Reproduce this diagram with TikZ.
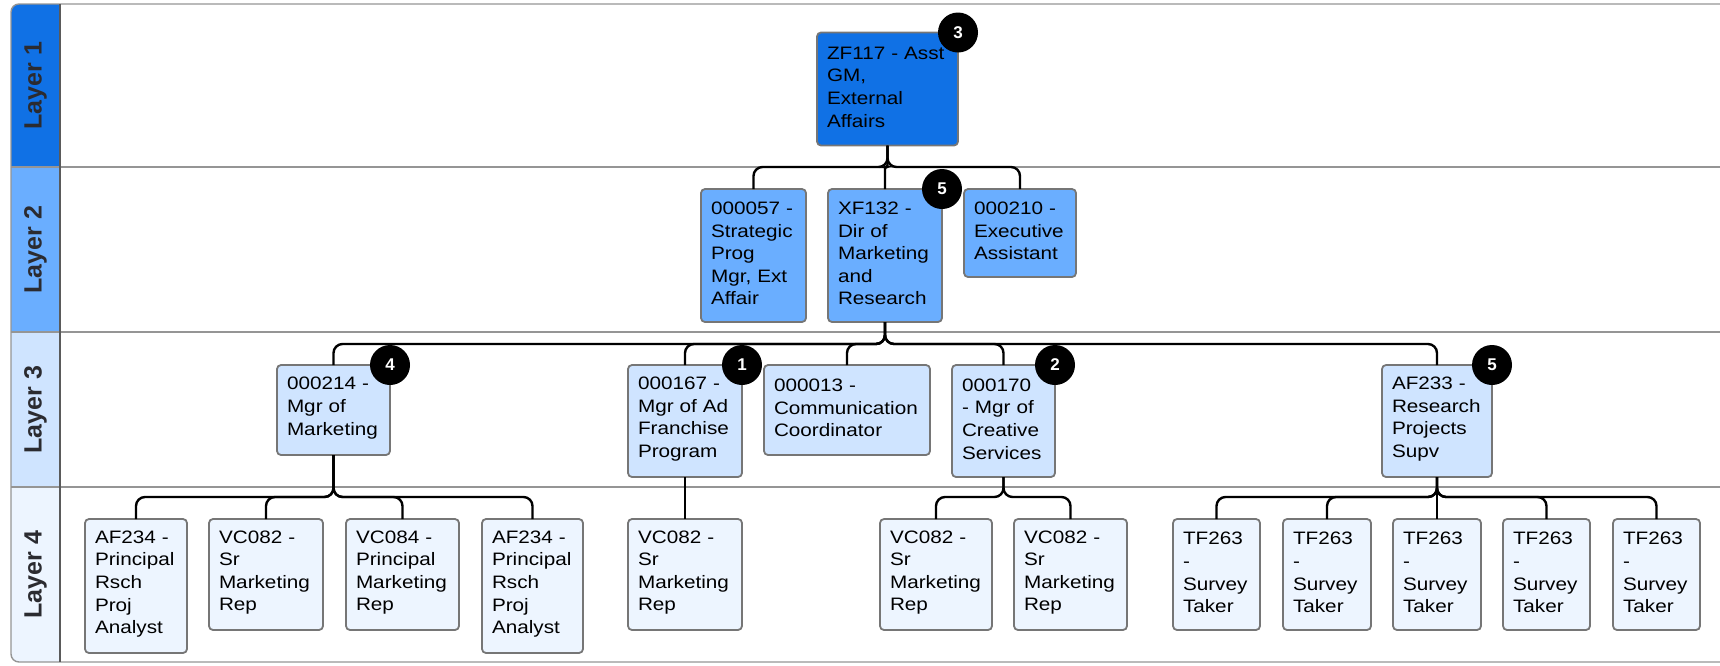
\documentclass[tikz,border=0pt]{standalone}
\usepackage{fontspec}
\setmainfont{Liberation Sans}
\newfontfamily\boxfont{Liberation Sans}[FakeStretch=1.15]
\hyphenpenalty=10000
\exhyphenpenalty=10000

\definecolor{lvlA}{HTML}{1071E5}
\definecolor{lvlB}{HTML}{6AAEFF}
\definecolor{lvlC}{HTML}{CFE4FF}
\definecolor{lvlD}{HTML}{EDF5FF}
\definecolor{boxline}{HTML}{767676}
\definecolor{framegray}{HTML}{959595}
\definecolor{colline}{HTML}{5A5A5A}
\definecolor{labeltext}{HTML}{2B2B30}

\tikzset{
  orgbox/.style={draw=boxline, line width=1.8pt, rounded corners=4pt,
    inner xsep=10pt, inner ysep=0pt, outer sep=0pt, align=left, text=black,
    font=\boxfont\fontsize{18}{22.6}\selectfont},
  conn/.style={draw=black, line width=2.4pt, rounded corners=9pt},
  badge/.style={circle, fill=black, text=white, minimum size=40pt, inner sep=0pt,
    font=\bfseries\fontsize{17}{17}\selectfont},
  layerlabel/.style={rotate=90, text=labeltext, font=\bfseries\fontsize{25}{25}\selectfont},
  band/.style={draw=framegray, line width=1.4pt}
}

% box from its corners: name, left, top, right, bottom, fill, text
\newcommand\chartbox[7]{%
  \pgfmathsetmacro\cbw{#4-#2}%
  \pgfmathsetmacro\cbh{#5-#3}%
  \pgfmathsetmacro\cbt{#4-#2-20}%
  \node[orgbox, fill=#6, minimum width=\cbw pt, minimum height=\cbh pt,
        text width=\cbt pt] (#1) at ({(#2+#4)/2},{(#3+#5)/2}) {#7\par\vspace{4pt}};}

% elbow connector from a parent down to a child via a bus line at height #3
\newcommand\busline[3]{%
  \draw[conn] (#1.south) -- (#1.south |- 0,#3) -- (#2.north |- 0,#3) -- (#2.north);}

\begin{document}
\begin{tikzpicture}[x=1pt, y=-1pt]
\useasboundingbox (0,0) rectangle (1720,665);
\clip (0,0) rectangle (1720,665);

% swimlane frame and layer header column
\begin{scope}
  \clip[rounded corners=8pt] (11,4) rectangle (1760,662);
  \fill[lvlA] (11,4) rectangle (60,167);
  \fill[lvlB] (11,167) rectangle (60,332);
  \fill[lvlC] (11,332) rectangle (60,487);
  \fill[lvlD] (11,487) rectangle (60,662);
\end{scope}
\draw[band] (11,167) -- (1760,167);
\draw[band] (11,332) -- (1760,332);
\draw[band] (11,487) -- (1760,487);
\draw[framegray, line width=1.4pt, rounded corners=8pt] (11,4) rectangle (1760,662);
\draw[colline, line width=1.4pt] (60,4) -- (60,662);

\node[layerlabel] (lab1) at (35.5,85.5) {Layer 1};
\node[layerlabel] (lab2) at (35.5,249.5) {Layer 2};
\node[layerlabel] (lab3) at (35.5,409.5) {Layer 3};
\node[layerlabel] (lab4) at (35.5,574.5) {Layer 4};

% layer 1
\chartbox{zf}{817}{32.5}{958}{145.5}{lvlA}{ZF117~-~Asst\\GM,\\External\\Affairs}

% layer 2
\chartbox{s57}{701}{189}{806}{322}{lvlB}{000057~-\\Strategic\\Prog\\Mgr,~Ext\\Affair}
\chartbox{xf}{828}{189}{942}{322}{lvlB}{XF132~-\\Dir~of\\Marketing\\and\\Research}
\chartbox{e210}{964}{189}{1076}{277}{lvlB}{000210~-\\Executive\\Assistant}

% layer 3
\chartbox{m214}{277}{365}{390}{455}{lvlC}{000214~-\\Mgr~of\\Marketing}
\chartbox{m167}{628}{365}{742}{477}{lvlC}{000167~-\\Mgr~of~Ad\\Franchise\\Program}
\chartbox{c013}{764}{365}{930}{455}{lvlC}{000013~-\\Communication\\Coordinator}
\chartbox{m170}{952}{365}{1055}{477}{lvlC}{000170\\-~Mgr~of\\Creative\\Services}
\chartbox{r233}{1382}{365}{1492}{477}{lvlC}{AF233~-\\Research\\Projects\\Supv}

% layer 4
\chartbox{a1}{85}{519}{187}{653}{lvlD}{AF234~-\\Principal\\Rsch\\Proj\\Analyst}
\chartbox{v1}{209}{519}{323}{630}{lvlD}{VC082~-\\Sr\\Marketing\\Rep}
\chartbox{v84}{346}{519}{459}{630}{lvlD}{VC084~-\\Principal\\Marketing\\Rep}
\chartbox{a2}{482}{519}{583}{653}{lvlD}{AF234~-\\Principal\\Rsch\\Proj\\Analyst}
\chartbox{v2}{628}{519}{742}{630}{lvlD}{VC082~-\\Sr\\Marketing\\Rep}
\chartbox{v3}{880}{519}{992}{630}{lvlD}{VC082~-\\Sr\\Marketing\\Rep}
\chartbox{v4}{1014}{519}{1127}{630}{lvlD}{VC082~-\\Sr\\Marketing\\Rep}
\chartbox{t1}{1173}{519}{1260}{630}{lvlD}{TF263\\-\\Survey\\Taker}
\chartbox{t2}{1283}{519}{1371}{630}{lvlD}{TF263\\-\\Survey\\Taker}
\chartbox{t3}{1393}{519}{1481}{630}{lvlD}{TF263\\-\\Survey\\Taker}
\chartbox{t4}{1503}{519}{1590}{630}{lvlD}{TF263\\-\\Survey\\Taker}
\chartbox{t5}{1613}{519}{1700}{630}{lvlD}{TF263\\-\\Survey\\Taker}

% connectors, layer 1 to 2
\busline{zf}{s57}{167}
\busline{zf}{e210}{167}
\draw[conn, rounded corners=2pt] (zf.south) -- (zf.south |- 0,167) -- (xf.north |- 0,167) -- (xf.north);

% layer 2 to 3
\busline{xf}{m214}{344}
\busline{xf}{m167}{344}
\busline{xf}{c013}{344}
\busline{xf}{m170}{344}
\busline{xf}{r233}{344}

% layer 3 to 4
\busline{m214}{a1}{497}
\busline{m214}{v1}{497}
\busline{m214}{v84}{497}
\busline{m214}{a2}{497}
\draw[conn] (m167.south) -- (v2.north);
\busline{m170}{v3}{497}
\busline{m170}{v4}{497}
\busline{r233}{t1}{497}
\busline{r233}{t2}{497}
\draw[conn] (r233.south) -- (t3.north);
\busline{r233}{t4}{497}
\busline{r233}{t5}{497}

% count badges
\node[badge] (bzf) at (zf.north east) {3};
\node[badge] (bxf) at (xf.north east) {5};
\node[badge] (bm214) at (m214.north east) {4};
\node[badge] (bm167) at (m167.north east) {1};
\node[badge] (bm170) at (m170.north east) {2};
\node[badge] (br233) at (r233.north east) {5};
\end{tikzpicture}
\end{document}
